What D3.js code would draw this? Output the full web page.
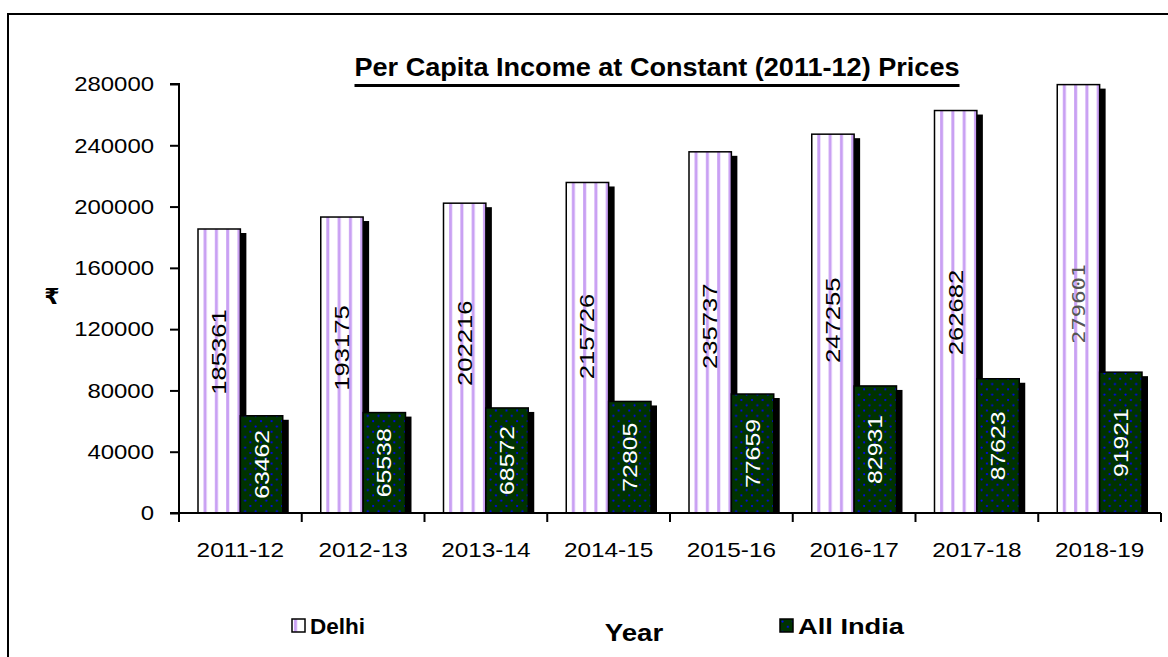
<!DOCTYPE html>
<html>
<head>
<meta charset="utf-8">
<script src="https://cdn.jsdelivr.net/npm/d3@7/dist/d3.min.js"></script>
<style>
  html, body { margin: 0; padding: 0; background: #fff; }
  svg { display: block; font-family: "Liberation Sans", Arial, sans-serif; }
</style>
</head>
<body>
<svg id="chart" width="1168" height="657"></svg>
<script>
const categories = ["2011-12", "2012-13", "2013-14", "2014-15", "2015-16", "2016-17", "2017-18", "2018-19"];
const seriesNames = ["Delhi", "All India"];
const delhiValues = [185361, 193175, 202216, 215726, 235737, 247255, 262682, 279601];
const indiaValues = [63462, 65538, 68572, 72805, 77659, 82931, 87623, 91921];
const yTicks = [0, 40000, 80000, 120000, 160000, 200000, 240000, 280000];
const titleText = "Per Capita Income at Constant (2011-12) Prices";
const xTitle = "Year";
const yTitle = "₹";

(function () {
const svg = d3.select("#chart");
const defs = svg.append("defs");

function stretch(sel, factor) {
  sel.each(function () {
    const w = this.getComputedTextLength();
    d3.select(this).attr("textLength", w * factor).attr("lengthAdjust", "spacingAndGlyphs");
  });
}
function fitTo(sel, width) {
  sel.attr("textLength", width).attr("lengthAdjust", "spacingAndGlyphs");
}

// Delhi pattern: white with lavender vertical stripes
const pD = defs.append("pattern").attr("id", "pDelhi").attr("patternUnits", "userSpaceOnUse")
  .attr("width", 11.3).attr("height", 10);
pD.append("rect").attr("width", 11.3).attr("height", 10).attr("fill", "#fff");
pD.append("rect").attr("x", 2).attr("width", 3).attr("height", 10).attr("fill", "#c9a0f3");

// All India pattern: dark green with blue dots
const pI = defs.append("pattern").attr("id", "pIndia").attr("patternUnits", "userSpaceOnUse")
  .attr("width", 10.6).attr("height", 10.6);
pI.append("rect").attr("width", 10.6).attr("height", 10.6).attr("fill", "#003300");
pI.append("circle").attr("cx", 2.5).attr("cy", 2.5).attr("r", 1.1).attr("fill", "#0000ff");
pI.append("circle").attr("cx", 7.8).attr("cy", 7.8).attr("r", 1.1).attr("fill", "#0000ff");

const fills = { "Delhi": "url(#pDelhi)", "All India": "url(#pIndia)" };

// Outer border
svg.append("rect").attr("x", 8).attr("y", 14).attr("width", 1200).attr("height", 700)
  .attr("fill", "none").attr("stroke", "#000").attr("stroke-width", 2);

const pLeft = 179, pRight = 1161, pTop = 84, pBottom = 513;

const x0 = d3.scaleBand().domain(categories).range([pLeft, pRight]).padding(0);
const x1 = d3.scaleBand().domain(seriesNames).range([19, x0.bandwidth() - 19]).padding(0);
const y = d3.scaleLinear().domain([0, 280000]).range([pBottom, pTop]);

const data = categories.map((c, i) => ({ cat: c, values: [
  { s: "Delhi", v: delhiValues[i] }, { s: "All India", v: indiaValues[i] } ] }));

const groups = svg.append("g").selectAll("g").data(data).join("g")
  .attr("transform", d => `translate(${x0(d.cat)},0)`);

groups.each(function(d) {
  const g = d3.select(this);
  d.values.forEach(e => {
    g.append("rect")
      .attr("x", x1(e.s) + 6).attr("y", y(e.v) + 4)
      .attr("width", x1.bandwidth()).attr("height", Math.max(0, pBottom - y(e.v) - 4))
      .attr("fill", "#000");
  });
  d.values.forEach(e => {
    g.append("rect")
      .attr("x", x1(e.s)).attr("y", y(e.v))
      .attr("width", x1.bandwidth()).attr("height", pBottom - y(e.v))
      .attr("fill", fills[e.s]).attr("stroke", "#000").attr("stroke-width", 1.5);
  });
});

// value labels
groups.each(function(d, i) {
  const g = d3.select(this);
  const dv = d.values[0], iv = d.values[1];
  const cxD = x1(dv.s) + x1.bandwidth() / 2;
  const cyD = (y(dv.v) + 2 * y(65000)) / 3;
  const last = i === categories.length - 1;
  const tD = g.append("text")
    .attr("transform", `translate(${cxD + 7},${cyD}) rotate(-90)`)
    .attr("text-anchor", "middle")
    .attr("font-size", last ? 18 : 21)
    .attr("font-family", last ? "'DejaVu Sans Mono', monospace" : null)
    .attr("fill", last ? "#555" : "#000")
    .text(dv.v);
  if (last) fitTo(tD, 80); else stretch(tD, 1.22);
  const cxI = x1(iv.s) + x1.bandwidth() / 2;
  const cyI = (y(iv.v) + pBottom) / 2;
  const tI = g.append("text")
    .attr("transform", `translate(${cxI + 7},${cyI}) rotate(-90)`)
    .attr("text-anchor", "middle")
    .attr("font-size", 21)
    .attr("fill", "#fff")
    .text(iv.v);
  stretch(tI, 1.18);
});

// Y axis
const yAxis = d3.axisLeft(y).tickValues(yTicks).tickSize(9).tickPadding(16).tickFormat(d3.format("d"));
const gy = svg.append("g").attr("transform", `translate(${pLeft},0)`).call(yAxis);
gy.select(".domain").attr("stroke", "#000").attr("stroke-width", 2).attr("d", `M-9,${pTop}H0V${pBottom}`);
gy.selectAll(".tick line").attr("stroke", "#000").attr("stroke-width", 2);
gy.selectAll(".tick text").attr("font-size", 21).attr("fill", "#000")
  .attr("font-family", "'Liberation Sans', Arial, sans-serif");
stretch(gy.selectAll(".tick text"), 1.14);

// X axis
const xAxis = d3.axisBottom(x0).tickSize(0).tickPadding(29);
const gx = svg.append("g").attr("transform", `translate(0,${pBottom})`).call(xAxis);
gx.select(".domain").attr("stroke", "#000").attr("stroke-width", 2).attr("d", `M${pLeft - 9},0H${pRight}`);
gx.selectAll(".tick text").attr("font-size", 21).attr("fill", "#000")
  .attr("font-family", "'Liberation Sans', Arial, sans-serif");
stretch(gx.selectAll(".tick text"), 1.16);
const bounds = categories.map(c => x0(c)).concat([x0(categories[categories.length - 1]) + x0.bandwidth()]);
gx.selectAll(".bound").data(bounds).join("line").attr("class", "bound")
  .attr("x1", d => d).attr("x2", d => d).attr("y1", 0).attr("y2", 9)
  .attr("stroke", "#000").attr("stroke-width", 2);

// Title
const tt = svg.append("text").attr("x", 657).attr("y", 76).attr("text-anchor", "middle")
  .attr("font-size", 25).attr("font-weight", "bold").attr("fill", "#000").text(titleText);
fitTo(tt, 605);
svg.append("line").attr("x1", 657 - 302.5).attr("x2", 657 + 302.5).attr("y1", 85.5).attr("y2", 85.5)
  .attr("stroke", "#000").attr("stroke-width", 3);

// Axis titles
svg.append("text").attr("x", 52).attr("y", 304).attr("text-anchor", "middle")
  .attr("font-size", 22).attr("font-weight", "bold")
  .attr("font-family", "'DejaVu Sans', sans-serif").text(yTitle);
const yr = svg.append("text").attr("x", 634).attr("y", 641).attr("text-anchor", "middle")
  .attr("font-size", 23).attr("font-weight", "bold").text(xTitle);
stretch(yr, 1.2);

// Legend
const legendPos = [292, 780];
const legendWidths = [55, 106];
seriesNames.forEach((s, i) => {
  const lg = svg.append("g").attr("transform", `translate(${legendPos[i]},619)`);
  lg.append("rect").attr("width", 13).attr("height", 13).attr("fill", fills[s])
    .attr("stroke", "#000").attr("stroke-width", 1.5);
  const t = lg.append("text").attr("x", 18).attr("y", 15).attr("font-size", 22)
    .attr("font-weight", "bold").text(s);
  fitTo(t, legendWidths[i]);
});
})();
</script>
</body>
</html>
